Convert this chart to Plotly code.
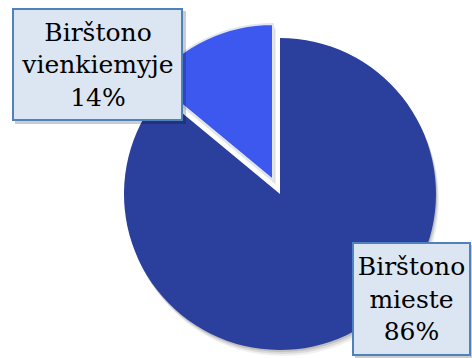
import plotly.graph_objects as go

# Share of respondents by place of residence
town = "Birštono"
places = ["mieste", "vienkiemyje"]
shares = [86, 14]
slice_colors = ["rgb(43,63,156)", "rgb(60,88,238)"]

W, H = 472, 358
R = 156                      # pie radius in px
center_main = (280, 194)     # px, from top-left
center_pulled = (273, 180)   # detached small slice


def domain_for(cx, cy, r):
    return dict(
        x=[(cx - r) / W, (cx + r) / W],
        y=[1 - (cy + r) / H, 1 - (cy - r) / H],
    )


clear = "rgba(0,0,0,0)"
common = dict(
    values=shares,
    labels=[f"{town} {p}" for p in places],
    sort=False,
    direction="clockwise",
    rotation=0,
    textinfo="none",
    hoverinfo="skip",
    showlegend=False,
)

fig = go.Figure()

# soft drop shadow under the main pie
for off, alpha in [(6, 0.06), (4, 0.09), (2, 0.12)]:
    fig.add_trace(go.Pie(
        **common,
        domain=domain_for(center_main[0] + off * 0.5, center_main[1] + off, R),
        marker=dict(colors=[f"rgba(0,0,0,{alpha})", clear], line=dict(width=0)),
    ))
for off, alpha in [(5, 0.06), (3, 0.1)]:
    fig.add_trace(go.Pie(
        **common,
        domain=domain_for(center_pulled[0] + off * 0.6, center_pulled[1] + off, R),
        marker=dict(colors=[clear, f"rgba(0,0,0,{alpha})"], line=dict(width=0)),
    ))

# large slice
fig.add_trace(go.Pie(
    **common,
    domain=domain_for(*center_main, R),
    marker=dict(colors=[slice_colors[0], clear], line=dict(width=0)),
))
# small slice, pulled out
fig.add_trace(go.Pie(
    **common,
    domain=domain_for(*center_pulled, R),
    marker=dict(colors=[clear, slice_colors[1]],
                line=dict(color=["rgba(0,0,0,0)", "rgb(225,230,240)"], width=[0, 2])),
))

# label boxes: (left px, top px, outer width px, outer height px)
boxes = [(352, 242, 119, 114), (12, 8, 171, 113)]
box_fill = "rgb(220,230,242)"
box_border = "rgb(79,129,189)"
pad, bw = 2, 2

for (left, top, bw_px, bh_px), place, share in zip(boxes, places, shares):
    # box shadow
    fig.add_shape(
        type="rect", xref="paper", yref="paper", layer="above",
        x0=(left + 3) / W, x1=(left + 3 + bw_px) / W,
        y0=1 - (top + 3 + bh_px) / H, y1=1 - (top + 3) / H,
        fillcolor="rgba(0,0,0,0.2)", line=dict(width=0),
    )
    fig.add_annotation(
        x=left / W, y=1 - top / H, xref="paper", yref="paper",
        xanchor="left", yanchor="top", showarrow=False,
        text=f"{town}<br>{place}<br>{share}%",
        font=dict(family="DejaVu Serif", size=25, color="black"),
        width=bw_px - 2 * (pad + bw), height=bh_px - 2 * (pad + bw),
        bgcolor=box_fill, bordercolor=box_border, borderwidth=bw,
        borderpad=pad,
    )

fig.update_layout(
    width=W, height=H,
    margin=dict(l=0, r=0, t=0, b=0),
    paper_bgcolor="white",
    plot_bgcolor="white",
)

fig.write_html("out.html")
